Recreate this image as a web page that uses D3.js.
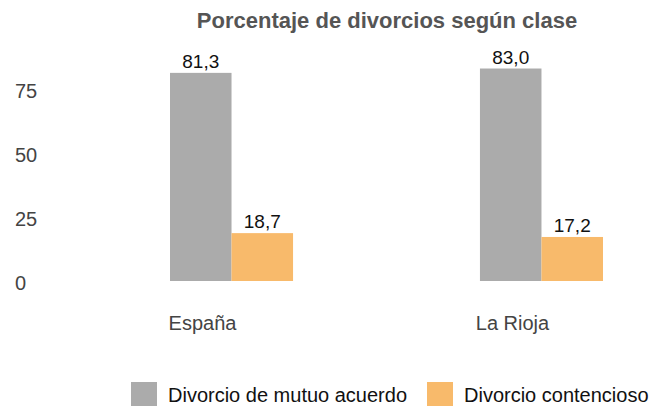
<!DOCTYPE html>
<html>
<head>
<meta charset="utf-8">
<script src="https://cdn.jsdelivr.net/npm/d3@7"></script>
<style>
  body { margin: 0; background: #fff; }
  text { font-family: "Liberation Sans", Arial, sans-serif; }
</style>
</head>
<body>
<svg id="chart" width="657" height="406"></svg>
<script>
// chart data
const categories = ["España", "La Rioja"];
const seriesNames = ["Divorcio de mutuo acuerdo", "Divorcio contencioso"];
const mutuoAcuerdo = [81.3, 83.0];
const contencioso = [18.7, 17.2];
const yTicks = [0, 25, 50, 75];
const colors = ["#ababab", "#f8ba6b"];

const svg = d3.select("#chart");
const fmt = v => v.toFixed(1).replace(".", ",");

const x = d3.scaleBand().domain(categories).range([170, 603]).paddingInner(0.603).paddingOuter(0);
const xSub = d3.scaleBand().domain(seriesNames).range([0, x.bandwidth()]);
const y = d3.scaleLinear().domain([0, 75]).range([281, 89]);

// title
svg.append("text")
  .attr("x", 387).attr("y", 28)
  .attr("text-anchor", "middle")
  .attr("font-size", 22).attr("font-weight", "bold")
  .attr("fill", "#555")
  .text("Porcentaje de divorcios según clase");

// y axis labels (no line, no grid)
svg.append("g").selectAll("text")
  .data(yTicks)
  .join("text")
  .attr("x", 15).attr("y", d => y(d) + 2)
  .attr("dy", "0.35em")
  .attr("font-size", 20).attr("fill", "#444")
  .text(d => d);

// bars
const rows = categories.map((c, i) => ({ cat: c, values: [mutuoAcuerdo[i], contencioso[i]] }));
const groups = svg.append("g").selectAll("g")
  .data(rows)
  .join("g")
  .attr("transform", d => `translate(${x(d.cat)},0)`);

groups.selectAll("rect")
  .data(d => d.values.map((v, j) => ({ s: seriesNames[j], v, j })))
  .join("rect")
  .attr("x", d => xSub(d.s))
  .attr("y", d => y(d.v))
  .attr("width", xSub.bandwidth())
  .attr("height", d => y(0) - y(d.v))
  .attr("fill", d => colors[d.j]);

groups.selectAll("text.val")
  .data(d => d.values.map((v, j) => ({ s: seriesNames[j], v })))
  .join("text")
  .attr("class", "val")
  .attr("x", d => xSub(d.s) + xSub.bandwidth() / 2)
  .attr("y", d => y(d.v) - 5)
  .attr("text-anchor", "middle")
  .attr("font-size", 19).attr("fill", "#111")
  .text(d => fmt(d.v));

// category labels
svg.append("g").selectAll("text")
  .data(categories)
  .join("text")
  .attr("x", d => x(d) + x.bandwidth() / 2 - 29)
  .attr("y", 330)
  .attr("text-anchor", "middle")
  .attr("font-size", 20).attr("fill", "#444")
  .text(d => d);

// legend
const legendX = [131, 427];
const legend = svg.append("g").selectAll("g")
  .data(seriesNames)
  .join("g")
  .attr("transform", (d, i) => `translate(${legendX[i]},382)`);
legend.append("rect")
  .attr("width", 26).attr("height", 24)
  .attr("fill", (d, i) => colors[i]);
legend.append("text")
  .attr("x", 37).attr("y", 13).attr("dy", "0.35em")
  .attr("font-size", 20).attr("fill", "#111")
  .text(d => d);
</script>
</body>
</html>
